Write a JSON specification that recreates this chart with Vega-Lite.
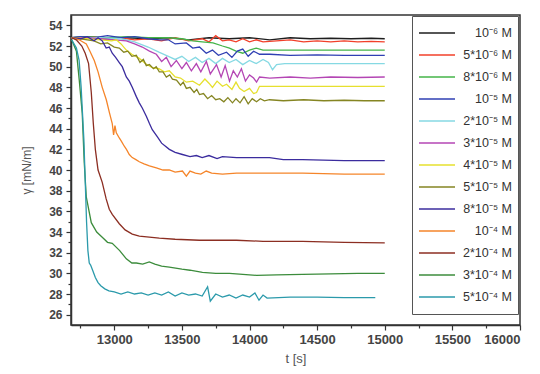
{
  "$schema": "https://vega.github.io/schema/vega-lite/v6.json",
  "width": 449,
  "height": 310,
  "autosize": "none",
  "padding": {"left": 71, "top": 15, "right": 20, "bottom": 49},
  "background": "white",
  "config": {
    "view": {"stroke": "#333333", "strokeWidth": 1.5},
    "font": "Liberation Sans",
    "axis": {
      "domainColor": "#333333",
      "domainWidth": 1.5,
      "tickColor": "#333333",
      "tickWidth": 1.2,
      "labelFont": "Liberation Sans",
      "labelFontSize": 12,
      "labelFontWeight": "bold",
      "labelColor": "#444444",
      "titleFont": "Liberation Sans",
      "titleFontSize": 13,
      "titleFontWeight": "normal",
      "titleColor": "#555555",
      "grid": false
    }
  },
  "data": {
    "values": [
      {"c": "10⁻⁶ M", "t": 12685, "g": 52.8}, {"c": "10⁻⁶ M", "t": 12800, "g": 52.9}, {"c": "10⁻⁶ M", "t": 12950, "g": 52.7}, {"c": "10⁻⁶ M", "t": 13100, "g": 52.8}, {"c": "10⁻⁶ M", "t": 13250, "g": 52.7}, {"c": "10⁻⁶ M", "t": 13400, "g": 52.8}, {"c": "10⁻⁶ M", "t": 13550, "g": 52.6}, {"c": "10⁻⁶ M", "t": 13700, "g": 52.8}, {"c": "10⁻⁶ M", "t": 13850, "g": 52.7}, {"c": "10⁻⁶ M", "t": 14000, "g": 52.8}, {"c": "10⁻⁶ M", "t": 14150, "g": 52.6}, {"c": "10⁻⁶ M", "t": 14300, "g": 52.8}, {"c": "10⁻⁶ M", "t": 14450, "g": 52.7}, {"c": "10⁻⁶ M", "t": 14600, "g": 52.75}, {"c": "10⁻⁶ M", "t": 14750, "g": 52.7}, {"c": "10⁻⁶ M", "t": 14900, "g": 52.75}, {"c": "10⁻⁶ M", "t": 15000, "g": 52.7},

      {"c": "5*10⁻⁶ M", "t": 12685, "g": 52.8}, {"c": "5*10⁻⁶ M", "t": 12750, "g": 52.7}, {"c": "5*10⁻⁶ M", "t": 12850, "g": 52.9}, {"c": "5*10⁻⁶ M", "t": 12950, "g": 52.6}, {"c": "5*10⁻⁶ M", "t": 13050, "g": 52.8}, {"c": "5*10⁻⁶ M", "t": 13150, "g": 52.6}, {"c": "5*10⁻⁶ M", "t": 13250, "g": 52.7}, {"c": "5*10⁻⁶ M", "t": 13350, "g": 52.5}, {"c": "5*10⁻⁶ M", "t": 13450, "g": 52.8}, {"c": "5*10⁻⁶ M", "t": 13550, "g": 52.5}, {"c": "5*10⁻⁶ M", "t": 13650, "g": 52.7}, {"c": "5*10⁻⁶ M", "t": 13700, "g": 52.4}, {"c": "5*10⁻⁶ M", "t": 13750, "g": 53.0}, {"c": "5*10⁻⁶ M", "t": 13800, "g": 52.5}, {"c": "5*10⁻⁶ M", "t": 13850, "g": 52.6}, {"c": "5*10⁻⁶ M", "t": 13900, "g": 52.4}, {"c": "5*10⁻⁶ M", "t": 13950, "g": 52.7}, {"c": "5*10⁻⁶ M", "t": 14000, "g": 52.4}, {"c": "5*10⁻⁶ M", "t": 14050, "g": 52.6}, {"c": "5*10⁻⁶ M", "t": 14100, "g": 52.4}, {"c": "5*10⁻⁶ M", "t": 14200, "g": 52.5}, {"c": "5*10⁻⁶ M", "t": 14300, "g": 52.6}, {"c": "5*10⁻⁶ M", "t": 14400, "g": 52.4}, {"c": "5*10⁻⁶ M", "t": 14500, "g": 52.5}, {"c": "5*10⁻⁶ M", "t": 14600, "g": 52.4}, {"c": "5*10⁻⁶ M", "t": 14700, "g": 52.5}, {"c": "5*10⁻⁶ M", "t": 14800, "g": 52.4}, {"c": "5*10⁻⁶ M", "t": 14900, "g": 52.45}, {"c": "5*10⁻⁶ M", "t": 15000, "g": 52.4},

      {"c": "8*10⁻⁶ M", "t": 12685, "g": 52.8}, {"c": "8*10⁻⁶ M", "t": 12800, "g": 52.9}, {"c": "8*10⁻⁶ M", "t": 12950, "g": 52.8}, {"c": "8*10⁻⁶ M", "t": 13100, "g": 52.9}, {"c": "8*10⁻⁶ M", "t": 13250, "g": 52.8}, {"c": "8*10⁻⁶ M", "t": 13400, "g": 52.8}, {"c": "8*10⁻⁶ M", "t": 13500, "g": 52.7}, {"c": "8*10⁻⁶ M", "t": 13580, "g": 52.5}, {"c": "8*10⁻⁶ M", "t": 13650, "g": 52.4}, {"c": "8*10⁻⁶ M", "t": 13730, "g": 52.3}, {"c": "8*10⁻⁶ M", "t": 13800, "g": 52.0}, {"c": "8*10⁻⁶ M", "t": 13852, "g": 51.8}, {"c": "8*10⁻⁶ M", "t": 13900, "g": 51.5}, {"c": "8*10⁻⁶ M", "t": 13950, "g": 51.3}, {"c": "8*10⁻⁶ M", "t": 14000, "g": 51.6}, {"c": "8*10⁻⁶ M", "t": 14050, "g": 51.8}, {"c": "8*10⁻⁶ M", "t": 14100, "g": 51.6}, {"c": "8*10⁻⁶ M", "t": 14300, "g": 51.6}, {"c": "8*10⁻⁶ M", "t": 14600, "g": 51.6}, {"c": "8*10⁻⁶ M", "t": 15000, "g": 51.6},

      {"c": "10⁻⁵ M", "t": 12685, "g": 52.8}, {"c": "10⁻⁵ M", "t": 12750, "g": 52.9}, {"c": "10⁻⁵ M", "t": 12850, "g": 52.8}, {"c": "10⁻⁵ M", "t": 12950, "g": 53.0}, {"c": "10⁻⁵ M", "t": 13050, "g": 52.8}, {"c": "10⁻⁵ M", "t": 13150, "g": 52.9}, {"c": "10⁻⁵ M", "t": 13250, "g": 52.7}, {"c": "10⁻⁵ M", "t": 13333, "g": 52.6}, {"c": "10⁻⁵ M", "t": 13400, "g": 52.6}, {"c": "10⁻⁵ M", "t": 13450, "g": 52.2}, {"c": "10⁻⁵ M", "t": 13533, "g": 52.3}, {"c": "10⁻⁵ M", "t": 13580, "g": 51.8}, {"c": "10⁻⁵ M", "t": 13630, "g": 51.9}, {"c": "10⁻⁵ M", "t": 13680, "g": 51.3}, {"c": "10⁻⁵ M", "t": 13726, "g": 51.6}, {"c": "10⁻⁵ M", "t": 13770, "g": 51.1}, {"c": "10⁻⁵ M", "t": 13830, "g": 51.4}, {"c": "10⁻⁵ M", "t": 13870, "g": 50.9}, {"c": "10⁻⁵ M", "t": 13910, "g": 51.5}, {"c": "10⁻⁵ M", "t": 13950, "g": 51.7}, {"c": "10⁻⁵ M", "t": 13990, "g": 51.0}, {"c": "10⁻⁵ M", "t": 14030, "g": 51.5}, {"c": "10⁻⁵ M", "t": 14074, "g": 51.2}, {"c": "10⁻⁵ M", "t": 14150, "g": 51.2}, {"c": "10⁻⁵ M", "t": 14300, "g": 51.1}, {"c": "10⁻⁵ M", "t": 14500, "g": 51.15}, {"c": "10⁻⁵ M", "t": 14700, "g": 51.1}, {"c": "10⁻⁵ M", "t": 15000, "g": 51.1},

      {"c": "2*10⁻⁵ M", "t": 12685, "g": 52.8}, {"c": "2*10⁻⁵ M", "t": 12900, "g": 52.8}, {"c": "2*10⁻⁵ M", "t": 13050, "g": 52.7}, {"c": "2*10⁻⁵ M", "t": 13150, "g": 52.4}, {"c": "2*10⁻⁵ M", "t": 13250, "g": 51.9}, {"c": "2*10⁻⁵ M", "t": 13330, "g": 51.4}, {"c": "2*10⁻⁵ M", "t": 13400, "g": 51.0}, {"c": "2*10⁻⁵ M", "t": 13450, "g": 50.7}, {"c": "2*10⁻⁵ M", "t": 13500, "g": 51.0}, {"c": "2*10⁻⁵ M", "t": 13550, "g": 50.5}, {"c": "2*10⁻⁵ M", "t": 13600, "g": 50.9}, {"c": "2*10⁻⁵ M", "t": 13650, "g": 50.4}, {"c": "2*10⁻⁵ M", "t": 13700, "g": 50.8}, {"c": "2*10⁻⁵ M", "t": 13750, "g": 50.3}, {"c": "2*10⁻⁵ M", "t": 13800, "g": 50.8}, {"c": "2*10⁻⁵ M", "t": 13850, "g": 50.4}, {"c": "2*10⁻⁵ M", "t": 13900, "g": 50.7}, {"c": "2*10⁻⁵ M", "t": 13950, "g": 50.2}, {"c": "2*10⁻⁵ M", "t": 14000, "g": 50.6}, {"c": "2*10⁻⁵ M", "t": 14050, "g": 50.3}, {"c": "2*10⁻⁵ M", "t": 14100, "g": 50.7}, {"c": "2*10⁻⁵ M", "t": 14140, "g": 50.4}, {"c": "2*10⁻⁵ M", "t": 14170, "g": 49.7}, {"c": "2*10⁻⁵ M", "t": 14200, "g": 50.2}, {"c": "2*10⁻⁵ M", "t": 14260, "g": 50.3}, {"c": "2*10⁻⁵ M", "t": 14400, "g": 50.3}, {"c": "2*10⁻⁵ M", "t": 14600, "g": 50.3}, {"c": "2*10⁻⁵ M", "t": 14800, "g": 50.3}, {"c": "2*10⁻⁵ M", "t": 15000, "g": 50.3},

      {"c": "3*10⁻⁵ M", "t": 12685, "g": 52.8}, {"c": "3*10⁻⁵ M", "t": 12800, "g": 52.8}, {"c": "3*10⁻⁵ M", "t": 12900, "g": 52.7}, {"c": "3*10⁻⁵ M", "t": 13000, "g": 52.6}, {"c": "3*10⁻⁵ M", "t": 13089, "g": 52.5}, {"c": "3*10⁻⁵ M", "t": 13150, "g": 52.2}, {"c": "3*10⁻⁵ M", "t": 13207, "g": 51.9}, {"c": "3*10⁻⁵ M", "t": 13260, "g": 51.5}, {"c": "3*10⁻⁵ M", "t": 13311, "g": 51.2}, {"c": "3*10⁻⁵ M", "t": 13350, "g": 50.5}, {"c": "3*10⁻⁵ M", "t": 13385, "g": 50.9}, {"c": "3*10⁻⁵ M", "t": 13420, "g": 50.0}, {"c": "3*10⁻⁵ M", "t": 13459, "g": 50.6}, {"c": "3*10⁻⁵ M", "t": 13500, "g": 49.8}, {"c": "3*10⁻⁵ M", "t": 13533, "g": 50.4}, {"c": "3*10⁻⁵ M", "t": 13570, "g": 49.6}, {"c": "3*10⁻⁵ M", "t": 13607, "g": 50.3}, {"c": "3*10⁻⁵ M", "t": 13640, "g": 49.5}, {"c": "3*10⁻⁵ M", "t": 13681, "g": 50.5}, {"c": "3*10⁻⁵ M", "t": 13710, "g": 49.3}, {"c": "3*10⁻⁵ M", "t": 13756, "g": 50.2}, {"c": "3*10⁻⁵ M", "t": 13790, "g": 49.0}, {"c": "3*10⁻⁵ M", "t": 13820, "g": 50.1}, {"c": "3*10⁻⁵ M", "t": 13852, "g": 48.6}, {"c": "3*10⁻⁵ M", "t": 13880, "g": 49.6}, {"c": "3*10⁻⁵ M", "t": 13910, "g": 49.0}, {"c": "3*10⁻⁵ M", "t": 13940, "g": 49.8}, {"c": "3*10⁻⁵ M", "t": 13970, "g": 48.6}, {"c": "3*10⁻⁵ M", "t": 14000, "g": 49.2}, {"c": "3*10⁻⁵ M", "t": 14030, "g": 48.9}, {"c": "3*10⁻⁵ M", "t": 14052, "g": 48.5}, {"c": "3*10⁻⁵ M", "t": 14074, "g": 49.0}, {"c": "3*10⁻⁵ M", "t": 14150, "g": 48.9}, {"c": "3*10⁻⁵ M", "t": 14300, "g": 49.0}, {"c": "3*10⁻⁵ M", "t": 14450, "g": 48.9}, {"c": "3*10⁻⁵ M", "t": 14600, "g": 49.0}, {"c": "3*10⁻⁵ M", "t": 14800, "g": 48.95}, {"c": "3*10⁻⁵ M", "t": 15000, "g": 49.0},

      {"c": "4*10⁻⁵ M", "t": 12685, "g": 52.8}, {"c": "4*10⁻⁵ M", "t": 12800, "g": 52.7}, {"c": "4*10⁻⁵ M", "t": 12900, "g": 52.6}, {"c": "4*10⁻⁵ M", "t": 12980, "g": 52.5}, {"c": "4*10⁻⁵ M", "t": 13015, "g": 52.6}, {"c": "4*10⁻⁵ M", "t": 13050, "g": 52.2}, {"c": "4*10⁻⁵ M", "t": 13089, "g": 51.6}, {"c": "4*10⁻⁵ M", "t": 13130, "g": 51.2}, {"c": "4*10⁻⁵ M", "t": 13185, "g": 50.8}, {"c": "4*10⁻⁵ M", "t": 13230, "g": 50.3}, {"c": "4*10⁻⁵ M", "t": 13281, "g": 49.9}, {"c": "4*10⁻⁵ M", "t": 13330, "g": 49.8}, {"c": "4*10⁻⁵ M", "t": 13370, "g": 49.5}, {"c": "4*10⁻⁵ M", "t": 13407, "g": 49.6}, {"c": "4*10⁻⁵ M", "t": 13450, "g": 49.0}, {"c": "4*10⁻⁵ M", "t": 13490, "g": 48.9}, {"c": "4*10⁻⁵ M", "t": 13533, "g": 48.5}, {"c": "4*10⁻⁵ M", "t": 13580, "g": 48.6}, {"c": "4*10⁻⁵ M", "t": 13630, "g": 48.2}, {"c": "4*10⁻⁵ M", "t": 13670, "g": 48.8}, {"c": "4*10⁻⁵ M", "t": 13700, "g": 48.4}, {"c": "4*10⁻⁵ M", "t": 13726, "g": 48.0}, {"c": "4*10⁻⁵ M", "t": 13760, "g": 48.6}, {"c": "4*10⁻⁵ M", "t": 13800, "g": 48.1}, {"c": "4*10⁻⁵ M", "t": 13830, "g": 48.3}, {"c": "4*10⁻⁵ M", "t": 13870, "g": 47.8}, {"c": "4*10⁻⁵ M", "t": 13900, "g": 48.5}, {"c": "4*10⁻⁵ M", "t": 13926, "g": 47.9}, {"c": "4*10⁻⁵ M", "t": 13960, "g": 47.6}, {"c": "4*10⁻⁵ M", "t": 14000, "g": 47.9}, {"c": "4*10⁻⁵ M", "t": 14030, "g": 47.4}, {"c": "4*10⁻⁵ M", "t": 14052, "g": 47.5}, {"c": "4*10⁻⁵ M", "t": 14074, "g": 48.1}, {"c": "4*10⁻⁵ M", "t": 14200, "g": 48.1}, {"c": "4*10⁻⁵ M", "t": 14400, "g": 48.1}, {"c": "4*10⁻⁵ M", "t": 14600, "g": 48.1}, {"c": "4*10⁻⁵ M", "t": 14800, "g": 48.1}, {"c": "4*10⁻⁵ M", "t": 15000, "g": 48.1},

      {"c": "5*10⁻⁵ M", "t": 12685, "g": 52.8}, {"c": "5*10⁻⁵ M", "t": 12750, "g": 52.7}, {"c": "5*10⁻⁵ M", "t": 12800, "g": 52.6}, {"c": "5*10⁻⁵ M", "t": 12850, "g": 52.5}, {"c": "5*10⁻⁵ M", "t": 12900, "g": 52.2}, {"c": "5*10⁻⁵ M", "t": 12950, "g": 52.3}, {"c": "5*10⁻⁵ M", "t": 13000, "g": 51.9}, {"c": "5*10⁻⁵ M", "t": 13037, "g": 51.8}, {"c": "5*10⁻⁵ M", "t": 13070, "g": 51.4}, {"c": "5*10⁻⁵ M", "t": 13100, "g": 51.5}, {"c": "5*10⁻⁵ M", "t": 13130, "g": 51.0}, {"c": "5*10⁻⁵ M", "t": 13163, "g": 51.1}, {"c": "5*10⁻⁵ M", "t": 13190, "g": 50.4}, {"c": "5*10⁻⁵ M", "t": 13215, "g": 50.7}, {"c": "5*10⁻⁵ M", "t": 13237, "g": 50.1}, {"c": "5*10⁻⁵ M", "t": 13260, "g": 50.2}, {"c": "5*10⁻⁵ M", "t": 13290, "g": 49.8}, {"c": "5*10⁻⁵ M", "t": 13310, "g": 50.0}, {"c": "5*10⁻⁵ M", "t": 13333, "g": 49.5}, {"c": "5*10⁻⁵ M", "t": 13360, "g": 49.5}, {"c": "5*10⁻⁵ M", "t": 13385, "g": 49.0}, {"c": "5*10⁻⁵ M", "t": 13410, "g": 49.2}, {"c": "5*10⁻⁵ M", "t": 13430, "g": 48.8}, {"c": "5*10⁻⁵ M", "t": 13460, "g": 48.7}, {"c": "5*10⁻⁵ M", "t": 13490, "g": 48.2}, {"c": "5*10⁻⁵ M", "t": 13510, "g": 48.5}, {"c": "5*10⁻⁵ M", "t": 13533, "g": 47.9}, {"c": "5*10⁻⁵ M", "t": 13560, "g": 48.0}, {"c": "5*10⁻⁵ M", "t": 13590, "g": 47.5}, {"c": "5*10⁻⁵ M", "t": 13610, "g": 47.8}, {"c": "5*10⁻⁵ M", "t": 13630, "g": 47.3}, {"c": "5*10⁻⁵ M", "t": 13660, "g": 47.4}, {"c": "5*10⁻⁵ M", "t": 13690, "g": 46.9}, {"c": "5*10⁻⁵ M", "t": 13720, "g": 47.2}, {"c": "5*10⁻⁵ M", "t": 13750, "g": 46.8}, {"c": "5*10⁻⁵ M", "t": 13780, "g": 46.9}, {"c": "5*10⁻⁵ M", "t": 13810, "g": 46.6}, {"c": "5*10⁻⁵ M", "t": 13840, "g": 47.0}, {"c": "5*10⁻⁵ M", "t": 13874, "g": 46.5}, {"c": "5*10⁻⁵ M", "t": 13900, "g": 46.9}, {"c": "5*10⁻⁵ M", "t": 13930, "g": 46.5}, {"c": "5*10⁻⁵ M", "t": 13960, "g": 47.1}, {"c": "5*10⁻⁵ M", "t": 13990, "g": 46.4}, {"c": "5*10⁻⁵ M", "t": 14020, "g": 46.9}, {"c": "5*10⁻⁵ M", "t": 14052, "g": 46.6}, {"c": "5*10⁻⁵ M", "t": 14080, "g": 46.9}, {"c": "5*10⁻⁵ M", "t": 14110, "g": 46.7}, {"c": "5*10⁻⁵ M", "t": 14148, "g": 46.8}, {"c": "5*10⁻⁵ M", "t": 14250, "g": 46.7}, {"c": "5*10⁻⁵ M", "t": 14400, "g": 46.8}, {"c": "5*10⁻⁵ M", "t": 14550, "g": 46.7}, {"c": "5*10⁻⁵ M", "t": 14700, "g": 46.75}, {"c": "5*10⁻⁵ M", "t": 14850, "g": 46.7}, {"c": "5*10⁻⁵ M", "t": 15000, "g": 46.7},

      {"c": "8*10⁻⁵ M", "t": 12685, "g": 52.8}, {"c": "8*10⁻⁵ M", "t": 12750, "g": 52.7}, {"c": "8*10⁻⁵ M", "t": 12800, "g": 52.9}, {"c": "8*10⁻⁵ M", "t": 12850, "g": 52.5}, {"c": "8*10⁻⁵ M", "t": 12880, "g": 52.8}, {"c": "8*10⁻⁵ M", "t": 12911, "g": 52.5}, {"c": "8*10⁻⁵ M", "t": 12940, "g": 51.8}, {"c": "8*10⁻⁵ M", "t": 12963, "g": 51.9}, {"c": "8*10⁻⁵ M", "t": 12985, "g": 51.3}, {"c": "8*10⁻⁵ M", "t": 13010, "g": 50.9}, {"c": "8*10⁻⁵ M", "t": 13037, "g": 50.4}, {"c": "8*10⁻⁵ M", "t": 13059, "g": 50.0}, {"c": "8*10⁻⁵ M", "t": 13089, "g": 49.0}, {"c": "8*10⁻⁵ M", "t": 13111, "g": 48.6}, {"c": "8*10⁻⁵ M", "t": 13133, "g": 48.0}, {"c": "8*10⁻⁵ M", "t": 13163, "g": 47.1}, {"c": "8*10⁻⁵ M", "t": 13185, "g": 46.5}, {"c": "8*10⁻⁵ M", "t": 13207, "g": 46.0}, {"c": "8*10⁻⁵ M", "t": 13237, "g": 45.2}, {"c": "8*10⁻⁵ M", "t": 13260, "g": 44.5}, {"c": "8*10⁻⁵ M", "t": 13281, "g": 43.9}, {"c": "8*10⁻⁵ M", "t": 13319, "g": 43.2}, {"c": "8*10⁻⁵ M", "t": 13350, "g": 42.6}, {"c": "8*10⁻⁵ M", "t": 13407, "g": 42.0}, {"c": "8*10⁻⁵ M", "t": 13450, "g": 41.7}, {"c": "8*10⁻⁵ M", "t": 13504, "g": 41.5}, {"c": "8*10⁻⁵ M", "t": 13560, "g": 41.3}, {"c": "8*10⁻⁵ M", "t": 13607, "g": 41.4}, {"c": "8*10⁻⁵ M", "t": 13650, "g": 41.2}, {"c": "8*10⁻⁵ M", "t": 13700, "g": 41.4}, {"c": "8*10⁻⁵ M", "t": 13760, "g": 41.1}, {"c": "8*10⁻⁵ M", "t": 13800, "g": 41.3}, {"c": "8*10⁻⁵ M", "t": 13904, "g": 41.2}, {"c": "8*10⁻⁵ M", "t": 14000, "g": 41.2}, {"c": "8*10⁻⁵ M", "t": 14148, "g": 41.2}, {"c": "8*10⁻⁵ M", "t": 14250, "g": 41.0}, {"c": "8*10⁻⁵ M", "t": 14393, "g": 41.0}, {"c": "8*10⁻⁵ M", "t": 14700, "g": 40.9}, {"c": "8*10⁻⁵ M", "t": 15000, "g": 40.9},

      {"c": "10⁻⁴ M", "t": 12685, "g": 52.8}, {"c": "10⁻⁴ M", "t": 12740, "g": 52.6}, {"c": "10⁻⁴ M", "t": 12793, "g": 52.2}, {"c": "10⁻⁴ M", "t": 12820, "g": 51.5}, {"c": "10⁻⁴ M", "t": 12852, "g": 50.6}, {"c": "10⁻⁴ M", "t": 12880, "g": 49.5}, {"c": "10⁻⁴ M", "t": 12911, "g": 48.0}, {"c": "10⁻⁴ M", "t": 12941, "g": 46.8}, {"c": "10⁻⁴ M", "t": 12965, "g": 45.5}, {"c": "10⁻⁴ M", "t": 12985, "g": 44.5}, {"c": "10⁻⁴ M", "t": 12995, "g": 43.4}, {"c": "10⁻⁴ M", "t": 13005, "g": 44.3}, {"c": "10⁻⁴ M", "t": 13015, "g": 43.6}, {"c": "10⁻⁴ M", "t": 13037, "g": 43.1}, {"c": "10⁻⁴ M", "t": 13052, "g": 42.8}, {"c": "10⁻⁴ M", "t": 13074, "g": 42.3}, {"c": "10⁻⁴ M", "t": 13090, "g": 42.0}, {"c": "10⁻⁴ M", "t": 13111, "g": 41.5}, {"c": "10⁻⁴ M", "t": 13133, "g": 41.2}, {"c": "10⁻⁴ M", "t": 13160, "g": 41.0}, {"c": "10⁻⁴ M", "t": 13185, "g": 40.8}, {"c": "10⁻⁴ M", "t": 13220, "g": 40.6}, {"c": "10⁻⁴ M", "t": 13260, "g": 40.4}, {"c": "10⁻⁴ M", "t": 13311, "g": 40.2}, {"c": "10⁻⁴ M", "t": 13360, "g": 40.0}, {"c": "10⁻⁴ M", "t": 13407, "g": 40.0}, {"c": "10⁻⁴ M", "t": 13450, "g": 39.8}, {"c": "10⁻⁴ M", "t": 13504, "g": 39.9}, {"c": "10⁻⁴ M", "t": 13533, "g": 39.4}, {"c": "10⁻⁴ M", "t": 13560, "g": 39.9}, {"c": "10⁻⁴ M", "t": 13600, "g": 39.7}, {"c": "10⁻⁴ M", "t": 13640, "g": 39.6}, {"c": "10⁻⁴ M", "t": 13680, "g": 39.9}, {"c": "10⁻⁴ M", "t": 13720, "g": 39.7}, {"c": "10⁻⁴ M", "t": 13800, "g": 39.6}, {"c": "10⁻⁴ M", "t": 13904, "g": 39.7}, {"c": "10⁻⁴ M", "t": 14000, "g": 39.7}, {"c": "10⁻⁴ M", "t": 14200, "g": 39.7}, {"c": "10⁻⁴ M", "t": 14393, "g": 39.7}, {"c": "10⁻⁴ M", "t": 14700, "g": 39.6}, {"c": "10⁻⁴ M", "t": 15000, "g": 39.6},

      {"c": "2*10⁻⁴ M", "t": 12685, "g": 52.8}, {"c": "2*10⁻⁴ M", "t": 12719, "g": 52.6}, {"c": "2*10⁻⁴ M", "t": 12760, "g": 52.0}, {"c": "2*10⁻⁴ M", "t": 12785, "g": 51.3}, {"c": "2*10⁻⁴ M", "t": 12810, "g": 50.3}, {"c": "2*10⁻⁴ M", "t": 12830, "g": 47.5}, {"c": "2*10⁻⁴ M", "t": 12845, "g": 44.5}, {"c": "2*10⁻⁴ M", "t": 12860, "g": 42.0}, {"c": "2*10⁻⁴ M", "t": 12880, "g": 40.0}, {"c": "2*10⁻⁴ M", "t": 12911, "g": 38.8}, {"c": "2*10⁻⁴ M", "t": 12940, "g": 37.2}, {"c": "2*10⁻⁴ M", "t": 12963, "g": 36.2}, {"c": "2*10⁻⁴ M", "t": 12985, "g": 35.7}, {"c": "2*10⁻⁴ M", "t": 13037, "g": 34.8}, {"c": "2*10⁻⁴ M", "t": 13080, "g": 34.2}, {"c": "2*10⁻⁴ M", "t": 13133, "g": 33.8}, {"c": "2*10⁻⁴ M", "t": 13185, "g": 33.6}, {"c": "2*10⁻⁴ M", "t": 13259, "g": 33.5}, {"c": "2*10⁻⁴ M", "t": 13333, "g": 33.4}, {"c": "2*10⁻⁴ M", "t": 13450, "g": 33.3}, {"c": "2*10⁻⁴ M", "t": 13630, "g": 33.2}, {"c": "2*10⁻⁴ M", "t": 13800, "g": 33.2}, {"c": "2*10⁻⁴ M", "t": 13904, "g": 33.2}, {"c": "2*10⁻⁴ M", "t": 14100, "g": 33.1}, {"c": "2*10⁻⁴ M", "t": 14393, "g": 33.1}, {"c": "2*10⁻⁴ M", "t": 14700, "g": 33.0}, {"c": "2*10⁻⁴ M", "t": 15000, "g": 32.95},

      {"c": "3*10⁻⁴ M", "t": 12685, "g": 52.6}, {"c": "3*10⁻⁴ M", "t": 12720, "g": 51.5}, {"c": "3*10⁻⁴ M", "t": 12741, "g": 48.7}, {"c": "3*10⁻⁴ M", "t": 12763, "g": 45.5}, {"c": "3*10⁻⁴ M", "t": 12778, "g": 40.7}, {"c": "3*10⁻⁴ M", "t": 12793, "g": 37.4}, {"c": "3*10⁻⁴ M", "t": 12830, "g": 34.9}, {"c": "3*10⁻⁴ M", "t": 12870, "g": 34.0}, {"c": "3*10⁻⁴ M", "t": 12911, "g": 33.5}, {"c": "3*10⁻⁴ M", "t": 12950, "g": 33.0}, {"c": "3*10⁻⁴ M", "t": 12985, "g": 32.9}, {"c": "3*10⁻⁴ M", "t": 13040, "g": 32.2}, {"c": "3*10⁻⁴ M", "t": 13089, "g": 31.4}, {"c": "3*10⁻⁴ M", "t": 13130, "g": 31.0}, {"c": "3*10⁻⁴ M", "t": 13163, "g": 31.0}, {"c": "3*10⁻⁴ M", "t": 13210, "g": 30.9}, {"c": "3*10⁻⁴ M", "t": 13259, "g": 31.1}, {"c": "3*10⁻⁴ M", "t": 13300, "g": 30.9}, {"c": "3*10⁻⁴ M", "t": 13350, "g": 30.7}, {"c": "3*10⁻⁴ M", "t": 13407, "g": 30.6}, {"c": "3*10⁻⁴ M", "t": 13500, "g": 30.4}, {"c": "3*10⁻⁴ M", "t": 13560, "g": 30.3}, {"c": "3*10⁻⁴ M", "t": 13652, "g": 30.1}, {"c": "3*10⁻⁴ M", "t": 13750, "g": 30.0}, {"c": "3*10⁻⁴ M", "t": 13852, "g": 30.0}, {"c": "3*10⁻⁴ M", "t": 13950, "g": 29.9}, {"c": "3*10⁻⁴ M", "t": 14052, "g": 29.8}, {"c": "3*10⁻⁴ M", "t": 14200, "g": 29.85}, {"c": "3*10⁻⁴ M", "t": 14393, "g": 29.9}, {"c": "3*10⁻⁴ M", "t": 14600, "g": 29.95}, {"c": "3*10⁻⁴ M", "t": 14800, "g": 30.0}, {"c": "3*10⁻⁴ M", "t": 15000, "g": 30.0},

      {"c": "5*10⁻⁴ M", "t": 12685, "g": 52.6}, {"c": "5*10⁻⁴ M", "t": 12720, "g": 51.8}, {"c": "5*10⁻⁴ M", "t": 12740, "g": 50.6}, {"c": "5*10⁻⁴ M", "t": 12755, "g": 48.0}, {"c": "5*10⁻⁴ M", "t": 12765, "g": 45.5}, {"c": "5*10⁻⁴ M", "t": 12775, "g": 43.0}, {"c": "5*10⁻⁴ M", "t": 12785, "g": 39.0}, {"c": "5*10⁻⁴ M", "t": 12795, "g": 35.0}, {"c": "5*10⁻⁴ M", "t": 12805, "g": 32.2}, {"c": "5*10⁻⁴ M", "t": 12815, "g": 31.0}, {"c": "5*10⁻⁴ M", "t": 12825, "g": 30.8}, {"c": "5*10⁻⁴ M", "t": 12840, "g": 30.3}, {"c": "5*10⁻⁴ M", "t": 12860, "g": 29.6}, {"c": "5*10⁻⁴ M", "t": 12880, "g": 29.1}, {"c": "5*10⁻⁴ M", "t": 12900, "g": 28.8}, {"c": "5*10⁻⁴ M", "t": 12930, "g": 28.5}, {"c": "5*10⁻⁴ M", "t": 12960, "g": 28.3}, {"c": "5*10⁻⁴ M", "t": 13000, "g": 28.2}, {"c": "5*10⁻⁴ M", "t": 13050, "g": 28.0}, {"c": "5*10⁻⁴ M", "t": 13100, "g": 28.2}, {"c": "5*10⁻⁴ M", "t": 13150, "g": 28.0}, {"c": "5*10⁻⁴ M", "t": 13200, "g": 28.1}, {"c": "5*10⁻⁴ M", "t": 13250, "g": 27.9}, {"c": "5*10⁻⁴ M", "t": 13300, "g": 28.1}, {"c": "5*10⁻⁴ M", "t": 13350, "g": 27.9}, {"c": "5*10⁻⁴ M", "t": 13400, "g": 28.2}, {"c": "5*10⁻⁴ M", "t": 13450, "g": 27.8}, {"c": "5*10⁻⁴ M", "t": 13500, "g": 28.1}, {"c": "5*10⁻⁴ M", "t": 13550, "g": 27.9}, {"c": "5*10⁻⁴ M", "t": 13600, "g": 28.0}, {"c": "5*10⁻⁴ M", "t": 13650, "g": 27.8}, {"c": "5*10⁻⁴ M", "t": 13690, "g": 28.7}, {"c": "5*10⁻⁴ M", "t": 13710, "g": 27.3}, {"c": "5*10⁻⁴ M", "t": 13750, "g": 28.0}, {"c": "5*10⁻⁴ M", "t": 13800, "g": 27.7}, {"c": "5*10⁻⁴ M", "t": 13850, "g": 27.9}, {"c": "5*10⁻⁴ M", "t": 13900, "g": 27.6}, {"c": "5*10⁻⁴ M", "t": 13950, "g": 27.9}, {"c": "5*10⁻⁴ M", "t": 14000, "g": 27.7}, {"c": "5*10⁻⁴ M", "t": 14040, "g": 28.1}, {"c": "5*10⁻⁴ M", "t": 14070, "g": 27.4}, {"c": "5*10⁻⁴ M", "t": 14100, "g": 27.9}, {"c": "5*10⁻⁴ M", "t": 14130, "g": 27.6}, {"c": "5*10⁻⁴ M", "t": 14300, "g": 27.7}, {"c": "5*10⁻⁴ M", "t": 14500, "g": 27.7}, {"c": "5*10⁻⁴ M", "t": 14700, "g": 27.65}, {"c": "5*10⁻⁴ M", "t": 14930, "g": 27.65}
    ]
  },
  "mark": {"type": "line", "strokeWidth": 1.3, "interpolate": "linear"},
  "encoding": {
    "x": {
      "field": "t",
      "type": "quantitative",
      "scale": {"domain": [12680, 16000], "nice": false, "zero": false},
      "axis": {
        "title": "t [s]",
        "values": [12750, 13000, 13250, 13500, 13750, 14000, 14250, 14500, 14750, 15000, 15250, 15500, 15750, 16000],
        "format": "d",
        "labelExpr": "datum.value % 500 === 0 ? datum.label : ''",
        "tickSize": {"condition": {"test": "datum.value % 500 === 0", "value": 5}, "value": 3},
        "labelFontSize": 13,
        "labelPadding": 3,
        "titlePadding": 6,
        "labelFlush": true
      }
    },
    "y": {
      "field": "g",
      "type": "quantitative",
      "scale": {"domain": [25, 55], "nice": false, "zero": false},
      "axis": {
        "title": "γ [mN/m]",
        "values": [26, 27, 28, 29, 30, 31, 32, 33, 34, 35, 36, 37, 38, 39, 40, 41, 42, 43, 44, 45, 46, 47, 48, 49, 50, 51, 52, 53, 54],
        "labelExpr": "datum.value % 2 === 0 ? datum.label : ''",
        "tickSize": {"condition": {"test": "datum.value % 2 === 0", "value": 5}, "value": 3},
        "labelPadding": 4,
        "titlePadding": 15,
        "titleFontSize": 12
      }
    },
    "color": {
      "field": "c",
      "type": "nominal",
      "scale": {
        "domain": ["10⁻⁶ M", "5*10⁻⁶ M", "8*10⁻⁶ M", "10⁻⁵ M", "2*10⁻⁵ M", "3*10⁻⁵ M", "4*10⁻⁵ M", "5*10⁻⁵ M", "8*10⁻⁵ M", "10⁻⁴ M", "2*10⁻⁴ M", "3*10⁻⁴ M", "5*10⁻⁴ M"],
        "range": ["#1e1e1e", "#f2402a", "#44b449", "#2f3fb3", "#86d9e3", "#b446b4", "#e6e02e", "#858522", "#3b2c9e", "#f5852a", "#8c2e22", "#3c8c3c", "#2b9aab"]
      },
      "legend": {
        "title": null,
        "orient": "none",
        "legendX": 341,
        "legendY": 1,
        "symbolType": "stroke",
        "symbolSize": 1296,
        "symbolStrokeWidth": 1.5,
        "clipHeight": 22,
        "rowPadding": 0,
        "labelFont": "Liberation Sans",
        "labelFontSize": 12.5,
        "labelColor": "#333333",
        "labelAlign": "right",
        "labelOffset": 56,
        "labelLimit": 80,
        "padding": 6,
        "strokeColor": "#555555",
        "fillColor": "white"
      }
    }
  }
}
